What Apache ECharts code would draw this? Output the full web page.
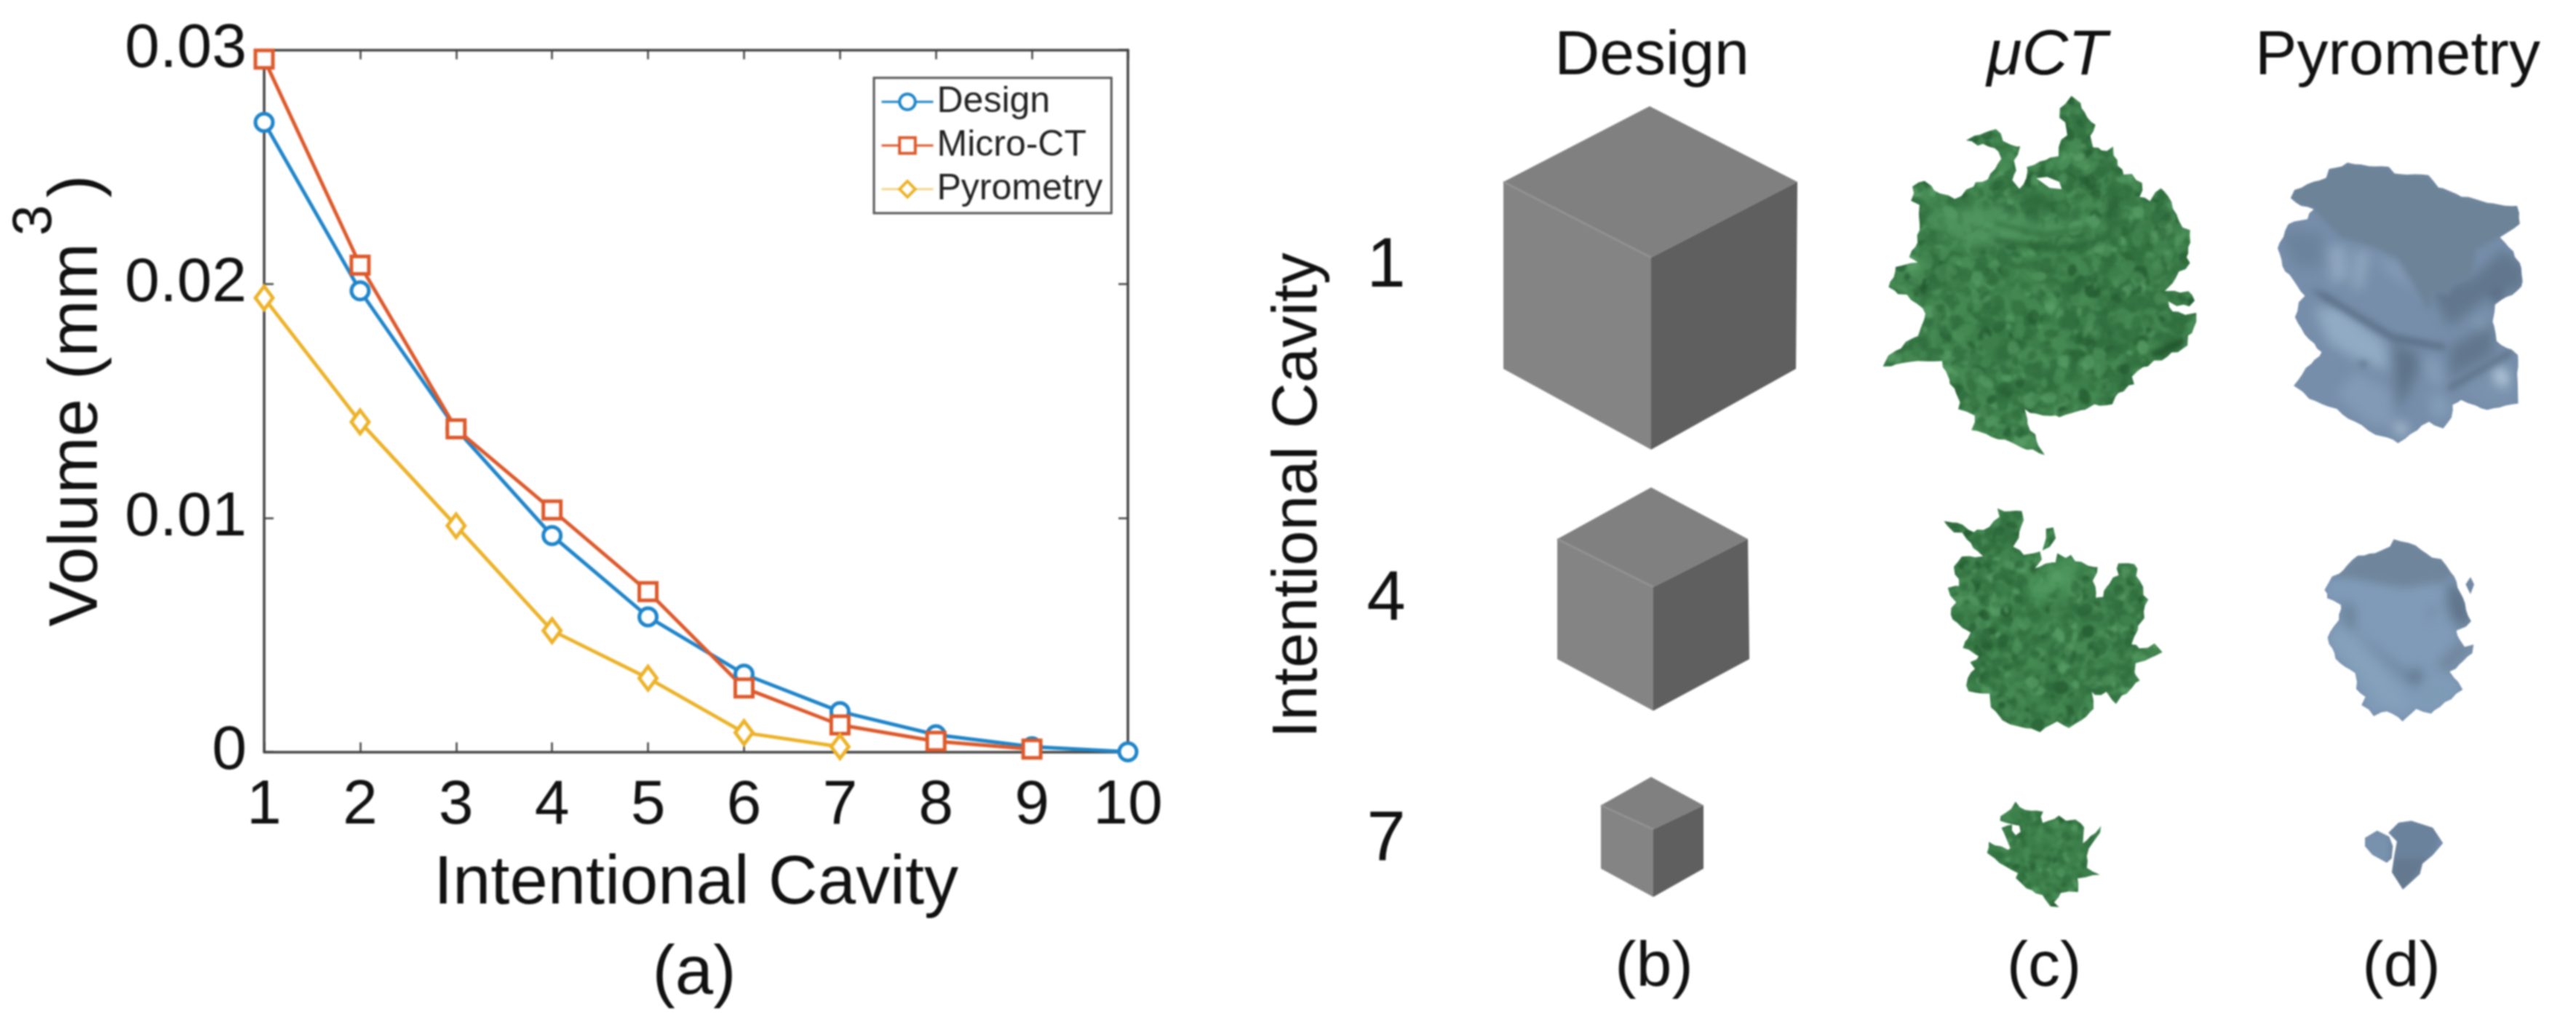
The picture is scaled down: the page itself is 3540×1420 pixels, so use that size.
<!DOCTYPE html>
<html><head><meta charset="utf-8">
<style>html,body{margin:0;padding:0;background:#fff}#main{width:3540px;height:1420px;filter:blur(1.2px)}</style>
<script src="https://cdn.jsdelivr.net/npm/echarts@6/dist/echarts.min.js"></script>
</head><body><div id="main"></div>
<script>
// ---- chart data ----
const cavities = [1,2,3,4,5,6,7,8,9,10];
const designValues = [0.0269,0.0197,0.0138,0.00924,0.00577,0.00332,0.00172,0.00073,0.00022,0];
const microCtValues = [0.0296,0.0208,0.0138,0.01034,0.00685,0.00273,0.00115,0.00045,0.00012];
const pyrometryValues = [0.0194,0.0141,0.00966,0.00518,0.00315,0.00082,0.00022];
const yTickLabels = {0:'0',0.01:'0.01',0.02:'0.02',0.03:'0.03'};
const seriesNames = ['Design','Micro-CT','Pyrometry'];
const seriesColors = ['#1f85c9','#dc5a2c','#ecb32a'];

// ---- illustration outlines (traced from the picture; not data) ----
// each frame maps traced crop coordinates to page pixels
const frame = (ox,oy,sx,sy)=>({ox,oy,sx,sy:sy||sx});
const G1 = frame(2540,130,3), P1 = frame(3050,210,3), P4 = frame(3100,720,3), G4 = frame(2640,680,3), G7 = frame(2700,1070,3), Z3 = frame(1700,680,.852,2.119), P7 = frame(3170,1100,3);
const greenBlob1 = [[915,10],[950,30],[975,70],[1000,110],[1020,130],[1005,175],[1010,210],[1045,235],[1085,215],[1090,250],[1115,290],[1135,335],[1175,330],[1210,365],[1205,425],[1250,435],[1295,385],[1320,420],[1345,475],[1360,525],[1410,565],[1412,610],[1395,650],[1405,690],[1350,760],[1310,810],[1395,815],[1435,850],[1400,875],[1325,860],[1320,880],[1385,905],[1430,905],[1430,960],[1395,1000],[1395,1030],[1340,1070],[1260,1100],[1170,1160],[1175,1195],[1110,1230],[1090,1270],[1010,1285],[900,1320],[830,1330],[725,1300],[740,1360],[780,1420],[810,1490],[760,1470],[690,1440],[620,1420],[510,1380],[520,1320],[460,1290],[440,1210],[410,1170],[385,1100],[280,1100],[145,1125],[165,1070],[220,1040],[290,990],[310,930],[320,900],[260,845],[160,790],[190,750],[190,705],[280,695],[245,665],[285,610],[295,530],[290,460],[260,440],[270,375],[320,350],[375,410],[440,425],[520,385],[520,365],[570,350],[610,310],[630,260],[600,220],[530,205],[490,185],[540,160],[610,145],[640,190],[715,220],[690,270],[690,310],[670,360],[700,385],[730,345],[745,310],[735,295],[790,280],[860,255],[870,210],[900,165],[890,115],[865,95],[870,60],[895,35]];
const greenHole1 = [[775,345],[820,340],[870,360],[880,390],[830,385]];
const greenBlob4 = [[320,60],[415,70],[420,100],[410,150],[385,210],[430,250],[495,240],[495,260],[470,305],[560,275],[565,240],[600,260],[625,245],[640,275],[735,300],[710,350],[720,420],[755,425],[760,380],[810,330],[815,285],[880,285],[890,340],[930,430],[925,480],[890,560],[870,610],[905,640],[965,615],[990,645],[950,670],[880,700],[875,730],[905,760],[870,800],[830,830],[810,865],[770,820],[700,820],[715,880],[680,910],[610,965],[560,940],[490,975],[400,955],[340,935],[290,880],[280,825],[195,810],[190,760],[215,720],[205,690],[240,660],[165,625],[210,570],[125,520],[125,470],[150,440],[115,420],[115,380],[155,370],[140,300],[175,255],[255,255],[200,200],[170,155],[130,150],[90,115],[130,110],[175,125],[215,155],[260,145],[320,90]];
const greenBit4 = [[515,140],[545,135],[555,180],[530,215],[500,230],[515,180]];
const greenBlob7 = [[205,100],[250,130],[320,140],[315,155],[320,180],[370,165],[390,150],[420,175],[460,170],[495,205],[485,270],[520,240],[565,200],[550,240],[510,290],[500,370],[555,395],[500,405],[465,415],[470,465],[430,470],[400,470],[370,510],[385,530],[350,525],[320,480],[250,450],[210,410],[215,390],[170,365],[120,325],[90,310],[100,265],[180,295],[190,285],[160,225],[155,200],[200,195],[145,175],[150,155],[195,125]];
const greenHole7 = [[195,190],[225,195],[230,220],[210,235],[195,215]];
const pyro1 = [[530,45],[700,60],[720,85],[860,95],[900,140],[1000,180],[1130,210],[1225,218],[1240,245],[1238,295],[1160,348],[1195,390],[1249,472],[1249,555],[1160,610],[1140,630],[1125,692],[1142,775],[1231,830],[1231,1037],[1105,1060],[1000,1020],[960,1040],[960,1090],[920,1135],[860,1110],[790,1160],[740,1195],[640,1160],[560,1110],[480,1060],[370,1010],[340,980],[310,960],[360,890],[410,840],[420,825],[370,770],[340,720],[315,680],[330,620],[350,590],[260,465],[240,395],[280,295],[360,270],[385,230],[340,220],[295,185],[310,150],[440,105],[450,70]];
const pyro1Top = [[530,45],[700,60],[720,85],[860,95],[900,140],[1000,180],[1130,210],[1260,213],[1250,300],[1170,340],[1060,400],[1040,510],[960,540],[950,590],[880,570],[860,650],[800,540],[740,440],[640,390],[500,350],[430,280],[385,230],[340,220],[280,185],[300,130],[440,95],[450,50]];
const pyro1Shades = [
 {c:'#6c839c',p:[[240,320],[420,330],[420,470],[320,470]]},
 {c:'#90a7bf',p:[[450,390],[520,380],[530,520],[460,540]]},
 {c:'#90a7bf',p:[[560,400],[620,410],[590,560],[550,570]]},
 {c:'#849cb6',p:[[640,420],[730,450],[840,620],[790,560],[700,500]]},
 {c:'#92abc4',p:[[390,640],[500,640],[680,780],[700,900],[560,850],[450,780]]},
 {c:'#5f748a',p:[[720,780],[820,830],[820,900],[740,1060],[720,900]]},
 {c:'#849db7',p:[[830,850],[900,850],[930,950],[880,960]]},
 {c:'#849db7',p:[[860,1000],[930,1000],[950,1080],[880,1100]]},
 {c:'#829ab5',p:[[560,900],[700,980],[720,1130],[620,1120],[480,1000]]},
 {c:'#bccfdf',p:[[740,1110],[780,1140],[750,1170],[720,1130]]},
 {c:'#62778d',p:[[950,800],[1130,700],[1130,830],[950,930]]},
 {c:'#62778d',p:[[870,570],[1050,510],[1170,400],[1260,470],[1260,555],[1100,600],[950,720]]},
 {c:'#7a92ad',p:[[1000,960],[1130,900],[1240,1030],[1100,1050]]},
 {c:'#bcd0e1',p:[[1130,880],[1190,900],[1190,970],[1140,950]]},
 {c:'#8ea5bd',p:[[1040,680],[1100,690],[1090,740]]},
 {c:'#3c4d60',p:[[1130,570],[1170,590],[1140,630]]}
];
const pyro1Ridges = [
 {c:'#5a6f85',p:[[370,560],[440,580],[720,750],[930,790],[930,815],[720,780],[430,605]]},
 {c:'#5e7389',p:[[940,960],[1200,810],[1210,830],[950,985]]},
 {c:'#5a6f85',p:[[570,860],[610,860],[600,890]]}
];
const pyro4 = [[570,65],[660,90],[700,125],[760,150],[805,195],[835,260],[885,400],[865,425],[830,440],[840,480],[860,510],[895,500],[895,530],[840,580],[800,610],[850,680],[780,740],[720,785],[660,765],[605,815],[540,770],[490,790],[440,745],[450,710],[415,680],[410,620],[330,560],[295,470],[320,425],[345,400],[350,330],[295,310],[285,270],[315,215],[365,190],[370,170],[420,130],[490,125],[550,95]];
const pyro4Bit = [[885,220],[900,250],[885,290],[865,250]];
const pyro4Top = [[570,45],[660,70],[720,110],[790,150],[830,195],[790,240],[700,250],[620,265],[500,245],[400,225],[300,215],[365,170],[420,110],[490,105],[550,75]];
const pyro4Shades = [
 {c:'#5f7489',p:[[790,240],[850,260],[900,400],[830,430],[790,350]]},
 {c:'#63788e',p:[[360,320],[400,340],[410,470],[370,400]]},
 {c:'#86a1bb',p:[[300,470],[370,420],[520,590],[640,760],[540,760]]},
 {c:'#5a6e83',p:[[640,590],[700,620],[650,680]]},
 {c:'#5f748b',p:[[720,340],[735,350],[715,410]]},
 {c:'#5f748b',p:[[420,460],[440,470],[650,640],[630,650]]},
 {c:'#7e9bb6',p:[[680,620],[850,680],[720,780],[650,740]]},
 {c:'#6f859b',p:[[840,480],[900,510],[800,610],[740,590]]}
];
const pyro7a = [[290,125],[340,150],[355,190],[350,240],[330,258],[270,225],[240,190],[240,155]];
const pyro7b = [[1375,950],[1400,970],[1412,1015],[1400,1050],[1388,1075],[1385,1105],[1365,1150],[1352,1100],[1355,1050],[1358,1010],[1348,985],[1360,955]];
// cubes: top vertex, left, right, centre, left-bottom, right-bottom, bottom (page pixels)
const cubes = [
 [[2267,146],[2066,250],[2470,250],[2269,354],[2066,507],[2468,507],[2269,618]],
 [[2269,670],[2140,741],[2402,741],[2272,807],[2140,906],[2404,906],[2272,977]],
 [[2269,1068],[2200,1107],[2341,1107],[2272,1140],[2200,1194],[2341,1194],[2272,1233]]
];
const texts = [
 {t:'Design',x:2270,y:78,s:86},{t:'μCT',x:2813,y:78,s:88,i:1},{t:'Pyrometry',x:3295,y:78,s:86},
 {t:'1',x:1905,y:368,s:96},{t:'4',x:1905,y:826,s:96},{t:'7',x:1905,y:1156,s:96},
 {t:'(a)',x:954,y:1340,s:94},{t:'(b)',x:2273,y:1331,s:88},{t:'(c)',x:2809,y:1331,s:88},{t:'(d)',x:3300,y:1331,s:88}
];

// ---- helpers for the illustrations ----
const hash = i => { const v = Math.sin(i*12.9898)*43758.5453; return v-Math.floor(v); };
const conv = (pts,z) => pts.map(p=>[z.ox+p[0]/z.sx, z.oy+p[1]/z.sy]);
function teeth(pts, amp, seed){
  const out=[]; let k=seed||1;
  pts.forEach((p,i)=>{
    const q=pts[(i+1)%pts.length], d=Math.hypot(q[0]-p[0],q[1]-p[1]), n=Math.max(1,Math.round(d/9));
    for(let j=0;j<n;j++){ const t=j/n;
      out.push([p[0]+(q[0]-p[0])*t+(hash(k++)-.5)*amp*2, p[1]+(q[1]-p[1])*t+(hash(k++)-.5)*amp*2]); }
  });
  return out;
}
function pageCanvas(){ const c=document.createElement('canvas'); c.width=3540; c.height=1420; return c; }
function fillPts(g,pts,color){ g.fillStyle=color; g.beginPath(); pts.forEach((p,i)=>i?g.lineTo(p[0],p[1]):g.moveTo(p[0],p[1])); g.closePath(); g.fill(); }
// draw one batch of shapes on a scratch layer, then blur the whole layer once onto the target
const scratch = pageCanvas(), sg = scratch.getContext('2d');
function layer(target, blur, alpha, draw){
  sg.clearRect(0,0,3540,1420); draw(sg);
  const g=target.getContext('2d'); g.save(); g.filter='blur('+blur+'px)'; g.globalAlpha=alpha;
  g.drawImage(scratch,0,0); g.restore();
}

// green mottled surface
const greenCanvas = pageCanvas();
greenCanvas.getContext('2d').fillStyle='#3c7f4a';
greenCanvas.getContext('2d').fillRect(2500,100,600,1200);
layer(greenCanvas,1.6,1,g=>{
  const regions=[[2570,130,3030,640,3800,9],[2660,690,2980,1010,1800,7.5],[2725,1095,2890,1250,500,5]];
  let k=1;
  regions.forEach(r=>{
    for(let i=0;i<r[4];i++){
      const x=r[0]+hash(k++)*(r[2]-r[0]), y=r[1]+hash(k++)*(r[3]-r[1]), a=hash(k++)*Math.PI;
      const s=r[5]*(.45+hash(k++)), t=hash(k++);
      g.fillStyle = t<.42?'#316f3f':t<.52?'#235a30':t<.88?'#478b55':'#5a9f68';
      g.globalAlpha=.35+.45*hash(k++);
      g.beginPath(); g.ellipse(x,y,s,s*(.5+.4*hash(k++)),a,0,Math.PI*2); g.fill();
    }
  });
  g.globalAlpha=1;
});
layer(greenCanvas,7,.7,g=>{
  fillPts(g,conv([[330,480],[620,450],[800,540],[1040,500],[1060,560],[820,580],[600,620],[520,640],[340,540]],G1),'#559a64');
  fillPts(g,conv([[660,400],[870,420],[880,490],[780,490]],G1),'#2f6c3d');
  fillPts(g,conv([[1060,470],[1110,400],[1120,560],[1080,600]],G1),'#275e33');
  fillPts(g,conv([[480,300],[600,250],[700,300],[600,340]],G4),'#4f9a60');
  fillPts(g,conv([[430,380],[560,300],[640,360],[480,450]],G4),'#54a066');
});
layer(greenCanvas,3,.75,g=>{
  fillPts(g,conv([[600,590],[850,625],[1060,590],[1060,610],[850,650],[600,610]],G1),'#2a6337');
  fillPts(g,conv([[600,520],[800,570],[1000,540],[1000,555],[800,590],[600,535]],G1),'#2f6c3d');
  fillPts(g,conv([[90,115],[150,125],[170,155],[130,150]],G4),'#1e4f2a');
  fillPts(g,conv([[1240,1060],[1390,1000],[1390,1030],[1260,1090]],G1),'#1e4f2a');
});
// soft-shaded pyrometry surface
const pyroCanvas = pageCanvas();
pyroCanvas.getContext('2d').fillStyle='#768eaa';
pyroCanvas.getContext('2d').fillRect(3090,150,430,1100);
layer(pyroCanvas,6,1,g=>fillPts(g,conv(pyro4,P4),'#809bb8'));
layer(pyroCanvas,8,1,g=>{
  pyro1Shades.forEach(s=>fillPts(g,conv(s.p,P1),s.c));
  pyro4Shades.forEach(s=>fillPts(g,conv(s.p,P4),s.c));
});
layer(pyroCanvas,4,1,g=>pyro1Ridges.forEach(s=>fillPts(g,conv(s.p,P1),s.c)));
layer(pyroCanvas,3,1,g=>fillPts(g,conv(pyro1Top,P1),'#6d8398'));
layer(pyroCanvas,6,1,g=>{
  fillPts(g,conv(pyro4Top,P4),'#6f859b');
  fillPts(g,conv(pyro4Bit,P4),'#6f859b');
});
layer(pyroCanvas,4,1,g=>{
  fillPts(g,conv([[240,150],[355,150],[355,260],[240,260]],P7),'#7892ae');
  fillPts(g,conv([[1350,950],[1415,950],[1400,1060],[1350,1060]],Z3),'#6a829c');
  fillPts(g,conv([[1350,1060],[1395,1060],[1370,1155],[1350,1155]],Z3),'#64798f');
});
const greenFill={image:greenCanvas,repeat:'no-repeat'}, pyroFill={image:pyroCanvas,repeat:'no-repeat'};

const gfx = [];
const poly = (pts,fill) => gfx.push({type:'polygon',silent:true,shape:{points:pts},style:{fill}});

// cubes
cubes.forEach(c=>{
  const [t,l,r,m,lb,rb,b]=c;
  poly([t,r,m,l],'#808080'); poly([l,m,b,lb],'#848484'); poly([r,m,b,rb],'#5f5f5f');
  gfx.push({type:'polyline',silent:true,shape:{points:[l,m]},style:{stroke:'#929292',lineWidth:3,fill:null}});
});
// green blobs
poly(teeth(conv(greenBlob1,G1),2.5,11),greenFill); poly(conv(greenHole1,G1),'#ffffff');
poly(teeth(conv(greenBlob4,G4),2.5,5000),greenFill); poly(conv(greenBit4,G4),greenFill);
poly(teeth(conv(greenBlob7,G7),1.5,9000),greenFill); poly(conv(greenHole7,G7),'#ffffff');
// pyrometry blobs
poly(teeth(conv(pyro1,P1),1.5,13000),pyroFill);
poly(teeth(conv(pyro4,P4),1.5,17000),pyroFill); poly(conv(pyro4Bit,P4),pyroFill);
poly(conv(pyro7a,P7),pyroFill); poly(conv(pyro7b,Z3),pyroFill);
// texts
texts.forEach(o=>gfx.push({type:'text',silent:true,x:o.x,y:o.y,style:{text:o.t,fill:'#111',font:(o.i?'italic ':'')+o.s+'px "Liberation Sans"',textAlign:'center',textVerticalAlign:'middle'}}));
gfx.push({type:'text',silent:true,x:1785,y:681,rotation:Math.PI/2,style:{text:'Intentional Cavity',fill:'#111',font:'87px "Liberation Sans"',textAlign:'center',textVerticalAlign:'middle'}});

const FONT='"Liberation Sans"';
const baseAxis = {axisLine:{show:true,onZero:false,lineStyle:{color:'#444',width:3.5}},
  axisTick:{show:true,inside:true,length:13,lineStyle:{color:'#444',width:2.5}},splitLine:{show:false},minorTick:{show:false}};
const mk = (sym,size)=>({symbol:sym,symbolSize:size,showSymbol:true,clip:false,type:'line',
  lineStyle:{width:5},itemStyle:{color:'#fff',borderWidth:5},emphasis:{disabled:true}});
const toPairs = vals => vals.map((v,i)=>[cavities[i],v]);
const series = [
 {...mk('circle',24),name:seriesNames[0],data:toPairs(designValues)},
 {...mk('rect',24),name:seriesNames[1],data:toPairs(microCtValues)},
 {...mk('diamond',[24,32]),name:seriesNames[2],data:toPairs(pyrometryValues)}
];
series.forEach((s,i)=>{s.lineStyle.color=seriesColors[i];s.itemStyle.borderColor=seriesColors[i];s.color=seriesColors[i];});

const chart = echarts.init(document.getElementById('main'),null,{renderer:'canvas',width:3540,height:1420});
chart.setOption({
  animation:false,backgroundColor:'#fff',
  grid:{left:363,top:68.5,width:1187,height:965,containLabel:false,outerBoundsMode:'none'},
  legend:{show:true,orient:'vertical',left:1201,top:107,padding:[8,12,8,9],itemGap:10,itemWidth:71,itemHeight:27,
    borderColor:'#555',borderWidth:3,backgroundColor:'#fff',
    textStyle:{fontFamily:FONT,fontSize:50,color:'#222'},
    lineStyle:{width:3},itemStyle:{borderWidth:4},
    data:[{name:seriesNames[0]},{name:seriesNames[1]},{name:seriesNames[2],lineStyle:{color:'#f3d68c'}}]},
  xAxis:[
   {...baseAxis,type:'value',min:1,max:10,interval:1,position:'bottom',name:'Intentional Cavity',nameLocation:'middle',nameGap:136,
    nameTextStyle:{fontFamily:FONT,fontSize:94,color:'#111'},
    axisLabel:{fontFamily:FONT,fontSize:86,color:'#111',margin:32}},
   {...baseAxis,type:'value',min:1,max:10,interval:1,position:'top',axisLabel:{show:false}}
  ],
  yAxis:[
   {...baseAxis,type:'value',min:0,max:0.03,interval:0.01,position:'left',name:'{a|Volume (mm}{s|3}{a|)}',nameLocation:'middle',nameGap:159,
    nameTextStyle:{rich:{a:{fontFamily:FONT,fontSize:94,color:'#111'},s:{fontFamily:FONT,fontSize:76,color:'#111',padding:[0,10,117,10]}}},
    axisLabel:{fontFamily:FONT,fontSize:86,color:'#111',margin:24,padding:[10,0,0,0],formatter:v=>yTickLabels[+v.toFixed(2)]}},
   {...baseAxis,type:'value',min:0,max:0.03,interval:0.01,position:'right',axisLabel:{show:false}}
  ],
  series,
  graphic:{elements:gfx}
});
</script></body></html>
